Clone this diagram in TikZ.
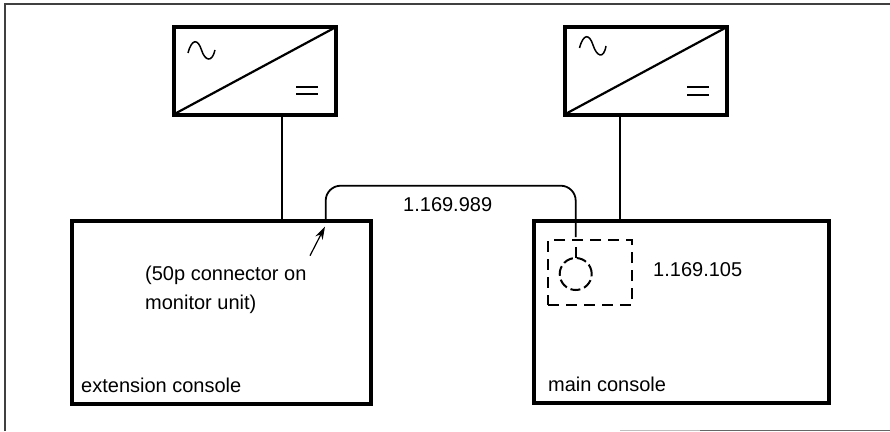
\documentclass[tikz,border=0pt]{standalone}
\usepackage{fontspec}
\setmainfont{Liberation Sans}
\usetikzlibrary{arrows.meta}
\tikzset{
  unitbox/.style={draw,line width=3.5pt,inner sep=0pt,outer sep=0pt,anchor=north west},
  conv/.style={draw,line width=4pt,inner sep=0pt,outer sep=0pt,anchor=north west,minimum width=162.5pt,minimum height=87.5pt},
  wire/.style={line width=1.8pt},
  dashwire/.style={line width=2pt,dash pattern=on 11pt off 7pt},
  label/.style={anchor=base west,inner sep=0pt,font=\fontsize{20}{20}\selectfont}
}
\begin{document}
\begin{tikzpicture}[x=1pt,y=-1pt]
\useasboundingbox (0,0) rectangle (890,431);

% page frame
\draw[line width=1.5pt,black!75] (5,431) -- (5,4) -- (890,4);
\draw[line width=1.2pt,black!25] (620,430.4) -- (700,430.4);
\draw[line width=1.4pt,black!60] (700,430.4) -- (890,430.4);

\node[conv] (convl) at (173.5,27) {};
\node[conv] (convr) at (564.5,27) {};
\node[unitbox,minimum width=299pt,minimum height=183pt] (extcons) at (72,221) {};
\node[unitbox,minimum width=295pt,minimum height=182pt] (maincons) at (534,221) {};

\draw[line width=2.2pt] (convl.south west) -- (convl.north east);
\draw[line width=2.2pt] (convr.south west) -- (convr.north east);

% ac and dc signs
\draw[line width=1.5pt] (188,53) .. controls (192,38) and (198,39) .. (201.5,50) .. controls (205,61) and (212,63) .. (215,50);
\draw[line width=1.5pt] (579.5,48) .. controls (583.5,33) and (589.5,34) .. (593,45) .. controls (596.5,56) and (603.5,60) .. (606,46);
\draw[line width=1.8pt] (296,87.3) -- (318,87.3);
\draw[line width=1.8pt] (296,94) -- (318,94);
\draw[line width=1.8pt] (687,87) -- (709,87);
\draw[line width=1.8pt] (687,95) -- (709,95);

\draw[wire] ([xshift=27pt]convl.south) -- ([xshift=27pt]convl.south |- extcons.north);
\draw[wire] ([xshift=-26pt]convr.south) -- ([xshift=-26pt]convr.south |- maincons.north);

% connector box in main console
\node[dashwire,draw,inner sep=0pt,outer sep=0pt,minimum width=84pt,minimum height=65pt,anchor=north west] (socket) at (548,240) {};
\node[draw,circle,line width=2pt,dash pattern=on 10pt off 4pt,inner sep=0pt,outer sep=0pt,minimum size=32pt] (jack) at (575.7,274) {};
\draw[wire] (jack.north |- 0,247) -- (jack.north);

\coordinate (cabletop) at (450,185.7);
\draw[wire,rounded corners=15pt] ([xshift=-45.3pt]extcons.north east) |- (cabletop) -| ([yshift=3pt]socket.north -| jack.north);

\coordinate (arrowtail) at (310,255.7);
\draw[-{Stealth[length=13pt,width=8pt]},line width=1.2pt] (arrowtail) -- ([xshift=-46pt,yshift=-5.5pt]extcons.north east);

\node[label] (cablelabel) at (403,211) {1.169.989};
\node[label] (socketlabel) at (653,276.7) {1.169.105};
\node[label] (note1) at (145,280) {(50p connector on};
\node[label] (note2) at (145,309) {monitor unit)};
\node[label] (extlabel) at (81,392.7) {extension console};
\node[label] (mainlabel) at (548,391.7) {main console};
\end{tikzpicture}
\end{document}
